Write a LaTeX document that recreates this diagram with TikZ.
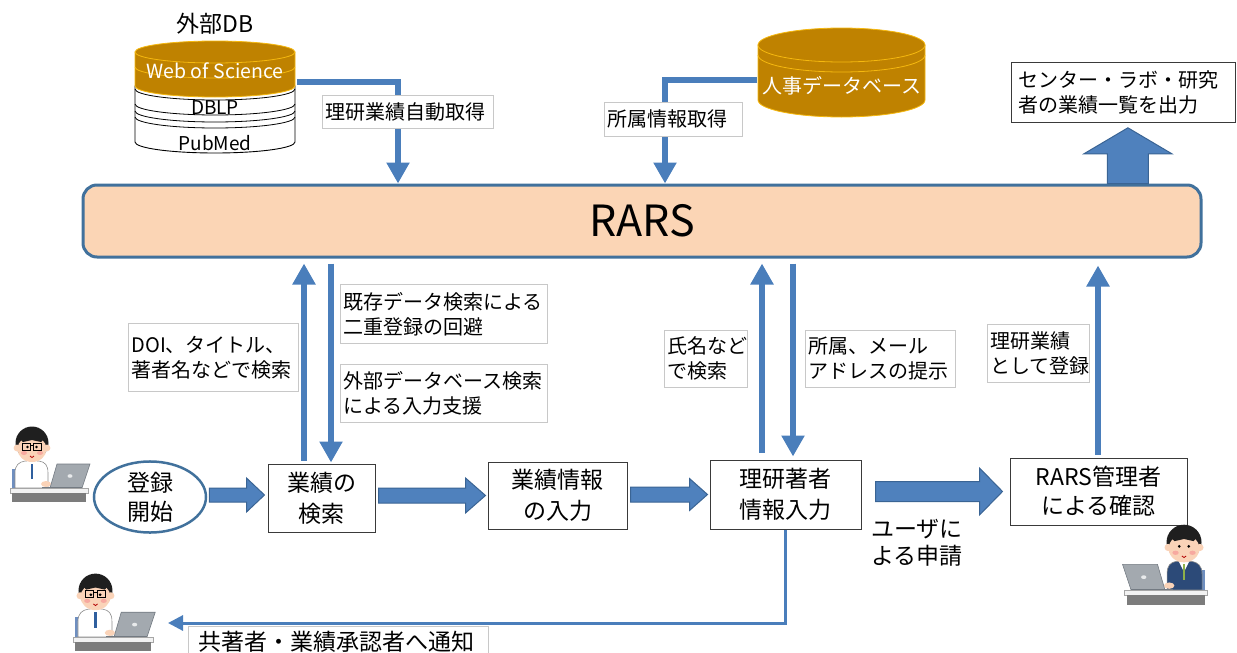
\documentclass[tikz,border=0pt]{standalone}
\usepackage{fontspec}
\setmainfont{Noto Sans CJK JP}
\usetikzlibrary{arrows.meta,calc,shapes.geometric}

\definecolor{arrowblue}{HTML}{4A7EBB}
\definecolor{blockfill}{HTML}{4F81BD}
\definecolor{blockline}{HTML}{3A6494}
\definecolor{rarsfill}{HTML}{FBD5B5}
\definecolor{rarsline}{HTML}{41719C}
\definecolor{dbgold}{HTML}{BF8200}
\definecolor{dbring}{HTML}{F5B80F}
\definecolor{lblgrey}{HTML}{C8C8C8}
\definecolor{boxline}{HTML}{3A3A3A}
\definecolor{skin}{HTML}{FAD3B8}
\definecolor{cheek}{HTML}{F7A9A0}
\definecolor{tieblue}{HTML}{2F5F9E}
\definecolor{tiegreen}{HTML}{8DB04A}
\definecolor{suitnavy}{HTML}{2C4A78}
\definecolor{chairblue}{HTML}{6F8FC0}
\definecolor{laptopgrey}{HTML}{A3A9AF}
\definecolor{laptopedge}{HTML}{737A82}
\definecolor{deskgrey}{HTML}{7C7C7C}

\newcommand\lblsize{\fontsize{20pt}{25pt}\selectfont}
\newcommand\stepsize{\fontsize{23pt}{31pt}\selectfont}

% horizontal block arrow: start point, tip point, shaft half width, head half width, head length
\newcommand\hblockarrow[5]{%
  \filldraw[blockarrow] let \p1=(#1), \p2=(#2) in
    (\x1,\y1+#3) -- (\x2-#5,\y1+#3) -- (\x2-#5,\y1+#4) -- (\x2,\y1)
    -- (\x2-#5,\y1-#4) -- (\x2-#5,\y1-#3) -- (\x1,\y1-#3) -- cycle;}
% upward block arrow: foot point, tip point, shaft half width, head half width, head length
\newcommand\vblockarrow[5]{%
  \filldraw[blockarrow] let \p1=(#1), \p2=(#2) in
    (\x1+#3,\y1) -- (\x1+#3,\y2-#5) -- (\x1+#4,\y2-#5) -- (\x1,\y2)
    -- (\x1-#4,\y2-#5) -- (\x1-#3,\y2-#5) -- (\x1-#3,\y1) -- cycle;}

\tikzset{
  lbl/.style={draw=lblgrey, line width=0.8pt, fill=white, anchor=north west,
    align=left, inner xsep=3pt, inner ysep=0pt, font=\lblsize, text=black},
  stepbox/.style={draw=boxline, line width=1pt, fill=white, align=center,
    font=\stepsize, inner sep=0pt, text=black},
  blockarrow/.style={fill=blockfill, draw=blockline, line width=1pt, line join=miter},
  thinarrow/.style={draw=arrowblue, line width=6.5pt, line join=miter,
    -{Triangle[width=22pt,length=21pt]}},
  notifyarrow/.style={draw=arrowblue, line width=3pt,
    -{Triangle[width=15pt,length=15pt]}},
  cyltext/.style={text=white, font=\fontsize{19.5pt}{19.5pt}\selectfont, inner sep=0pt},
  stacktext/.style={text=black, font=\fontsize{19pt}{19pt}\selectfont, inner sep=0pt},
  pics/deskworker/.style n args={3}{code={
    % chair back
    \fill[chairblue] (-37,-21) rectangle (-31,-2);
    % body
    \filldraw[fill=#1, draw=black!45, line width=0.6pt]
      (-34,-2) -- (-34,-17) .. controls (-34,-25) and (-30,-28) .. (-24,-29)
      -- (-10,-29) .. controls (-4,-28) and (-1,-25) .. (-1,-17) -- (-1,-2) -- cycle;
    % collar and tie
    \fill[white] (-22,-29) -- (-17,-19) -- (-12,-29) -- cycle;
    \draw[#2, line width=2.4pt] (-17,-26) -- (-17,-11);
    % head
    \fill[black!88] (-17,-47) circle (16.5);
    \fill[skin] (-17,-41) ellipse [x radius=14.5, y radius=13];
    \fill[skin] (-32,-42) circle (3.4);
    \fill[skin] (-2,-42) circle (3.4);
    \fill[black!88] (-30,-52) -- (-17,-56) -- (-4,-52) -- (-8,-48) -- (-17,-50) -- (-26,-48) -- cycle;
    \fill[cheek] (-25,-37) ellipse [x radius=3, y radius=2];
    \fill[cheek] (-9,-37) ellipse [x radius=3, y radius=2];
    \fill[black] (-21.5,-43) circle (1.4);
    \fill[black] (-12.5,-43) circle (1.4);
    \ifnum#3=1
      \draw[black, line width=1pt] (-26.5,-47) rectangle (-18.5,-40)
        (-15.5,-47) rectangle (-7.5,-40) (-18.5,-45) -- (-15.5,-45);
    \fi
    \draw[red!70!black, line width=0.8pt] (-19,-34) .. controls (-17,-32) .. (-15,-34);
    % hand
    \fill[skin] (-3,-6) ellipse [x radius=5, y radius=3];
    % laptop
    \filldraw[fill=laptopgrey, draw=laptopedge, line width=0.6pt]
      (1,-2) -- (8,-26) -- (41,-26) -- (33,-2) -- cycle;
    \fill[white!75!laptopgrey] (21,-14) ellipse [x radius=2.5, y radius=1.8];
    \draw[laptopedge, line width=1.2pt] (-7,-2) -- (33,-2);
    % desk
    \filldraw[fill=white!95!black, draw=black!35, line width=0.6pt] (-39,-2) rectangle (39,3);
    \fill[deskgrey] (-37,3) rectangle (37,12);
  }}
}

\begin{document}
\begin{tikzpicture}[x=1pt,y=-1pt]
\useasboundingbox (0,0) rectangle (1237,653);

% ---------- central system ----------
\node[draw=rarsline, line width=3pt, fill=rarsfill, rounded corners=14pt,
  minimum width=1118pt, minimum height=72pt, inner sep=0pt,
  font=\fontsize{43pt}{43pt}\selectfont] (rars) at (642,221) {RARS};

% ---------- external databases ----------
\node[font=\fontsize{23pt}{23pt}\selectfont, inner sep=0pt] (extdb) at (215,24) {外部DB};
\filldraw[fill=white, draw=black, line width=0.9pt]
  (135,86) -- (135,142) arc[start angle=180, end angle=0, x radius=80, y radius=11] -- (295,86) -- cycle;
\foreach \c in {89,104,111,117}
  \draw[black, line width=0.8pt] (135,\c) arc[start angle=180, end angle=0, x radius=80, y radius=11];
\filldraw[fill=dbgold, draw=dbring, line width=0.8pt]
  (135,52) -- (135,86) arc[start angle=180, end angle=0, x radius=80, y radius=11] -- (295,52) -- cycle;
\filldraw[fill=dbgold, draw=dbring, line width=0.8pt] (215,52) ellipse [x radius=80, y radius=11];
\draw[dbring, line width=0.8pt] (135,67) arc[start angle=180, end angle=0, x radius=80, y radius=11];
\node[cyltext] (wos) at (215,71) {Web of Science};
\node[stacktext] (dblp) at (215,108) {DBLP};
\node[stacktext] (pubmed) at (215,143) {PubMed};

% ---------- personnel database ----------
\filldraw[fill=dbgold, draw=dbring, line width=0.8pt]
  (758,45) -- (758,100) arc[start angle=180, end angle=0, x radius=83.5, y radius=17] -- (925,45) -- cycle;
\filldraw[fill=dbgold, draw=dbring, line width=0.8pt] (841.5,45) ellipse [x radius=83.5, y radius=17];
\draw[dbring, line width=0.8pt] (758,55) arc[start angle=180, end angle=0, x radius=83.5, y radius=17];
\node[cyltext, font=\fontsize{20pt}{20pt}\selectfont] (hrdb) at (842,86) {人事データベース};

% ---------- process row ----------
\node[draw=rarsline, line width=2.5pt, ellipse, minimum width=112pt, minimum height=66pt,
  inner sep=0pt, align=center, font=\fontsize{23pt}{29pt}\selectfont] (start) at (150,497) {登録\\開始};
\node[stepbox, minimum width=107pt, minimum height=68pt] (b1) at (321.5,498) {業績の\\検索};
\node[stepbox, minimum width=139pt, minimum height=67pt] (b2) at (557.5,495.5) {業績情報\\の入力};
\node[stepbox, minimum width=151pt, minimum height=69pt] (b3) at (785.5,494.5) {理研著者\\情報入力};
\node[stepbox, minimum width=177pt, minimum height=67pt, font=\fontsize{23pt}{29pt}\selectfont]
  (b4) at (1098.5,491.5) {RARS管理者\\による確認};
\node[font=\fontsize{23pt}{27pt}\selectfont, align=left, inner sep=0pt] (apply) at (917,543) {ユーザに\\よる申請};

\hblockarrow{$(start.east)+(2,-2)$}{$(b1.west)+(-3,0)$}{7pt}{17pt}{18pt}
\hblockarrow{$(b1.east)+(3,-2.5)$}{$(b2.west)+(-2,0)$}{7.5pt}{17.5pt}{20pt}
\hblockarrow{$(b2.east)+(3,-1)$}{$(b3.west)+(-2,0)$}{7.5pt}{16pt}{18pt}
\hblockarrow{$(b3.east)+(14,-3)$}{$(b4.west)+(-7,0)$}{10pt}{23.5pt}{23pt}

% ---------- output ----------
\node[lbl, draw=boxline, inner xsep=7pt, text width=210pt, minimum height=60pt] (out) at (1011,62)
  {センター・ラボ・研究\\者の業績一覧を出力};
\vblockarrow{$(rars.north -| out.south)+(4.5,0)$}{$(out.south)+(4.5,5)$}{20.5pt}{44pt}{26pt}

% ---------- data flows to and from the system ----------
\coordinate (dbout) at (297,82);
\coordinate (hrout) at (757,80);
\coordinate (colD) at (398,0);
\coordinate (colH) at (665,0);
\coordinate (colA) at (304,0);
\coordinate (colB) at (331,0);
\coordinate (colC) at (762,0);
\coordinate (colE) at (793,0);
\coordinate (colF) at (1098,0);

\draw[thinarrow] (dbout) -| (rars.north -| colD);
\draw[thinarrow] (hrout) -| (rars.north -| colH);

\draw[thinarrow] ($(b1.north -| colA)+(0,-3)$) -- ($(rars.south -| colA)+(0,5)$);
\draw[thinarrow] ($(rars.south -| colB)+(0,5)$) -- ($(b1.north -| colB)+(0,-1)$);
\draw[thinarrow] ($(b3.north -| colC)+(0,-7)$) -- ($(rars.south -| colC)+(0,5)$);
\draw[thinarrow] ($(rars.south -| colE)+(0,5)$) -- ($(b3.north -| colE)+(0,-3)$);
\draw[thinarrow] ($(b4.north -| colF)+(0,-3)$) -- ($(rars.south -| colF)+(0,7)$);

\coordinate (notifytip) at (168,623);
\draw[notifyarrow] (b3.south) |- (notifytip);

% ---------- labels ----------
\node[lbl, text width=165pt, minimum height=33pt] (l1) at (322,95) {理研業績自動取得};
\node[lbl, text width=132pt, minimum height=34pt] (l2) at (604,102) {所属情報取得};
\node[lbl, text width=164pt, minimum height=68pt] (l3) at (128,323) {DOI、タイトル、\\著者名などで検索};
\node[lbl, text width=201pt, minimum height=59pt] (l4) at (340,284) {既存データ検索による\\二重登録の回避};
\node[lbl, text width=201pt, minimum height=58pt] (l5) at (340,364) {外部データベース検索\\による入力支援};
\node[lbl, text width=77pt, minimum height=57pt] (l6) at (664,330) {氏名など\\で検索};
\node[lbl, text width=144pt, minimum height=57pt] (l7) at (805,330) {所属、メール\\アドレスの提示};
\node[lbl, text width=96pt, minimum height=58pt] (l8) at (987,324) {理研業績\\として登録};
\node[lbl, inner xsep=10pt, text width=280pt, minimum height=30pt, font=\fontsize{23pt}{27pt}\selectfont]
  (l9) at (188,626) {共著者・業績承認者へ通知};

% ---------- people ----------
\pic at (49,490) {deskworker={white}{tieblue}{1}};
\pic[scale=1.03] at (113,639) {deskworker={white}{tieblue}{1}};
\pic[xscale=-1.06, yscale=1.06] at (1166,592) {deskworker={suitnavy}{tiegreen}{0}};

\end{tikzpicture}
\end{document}
